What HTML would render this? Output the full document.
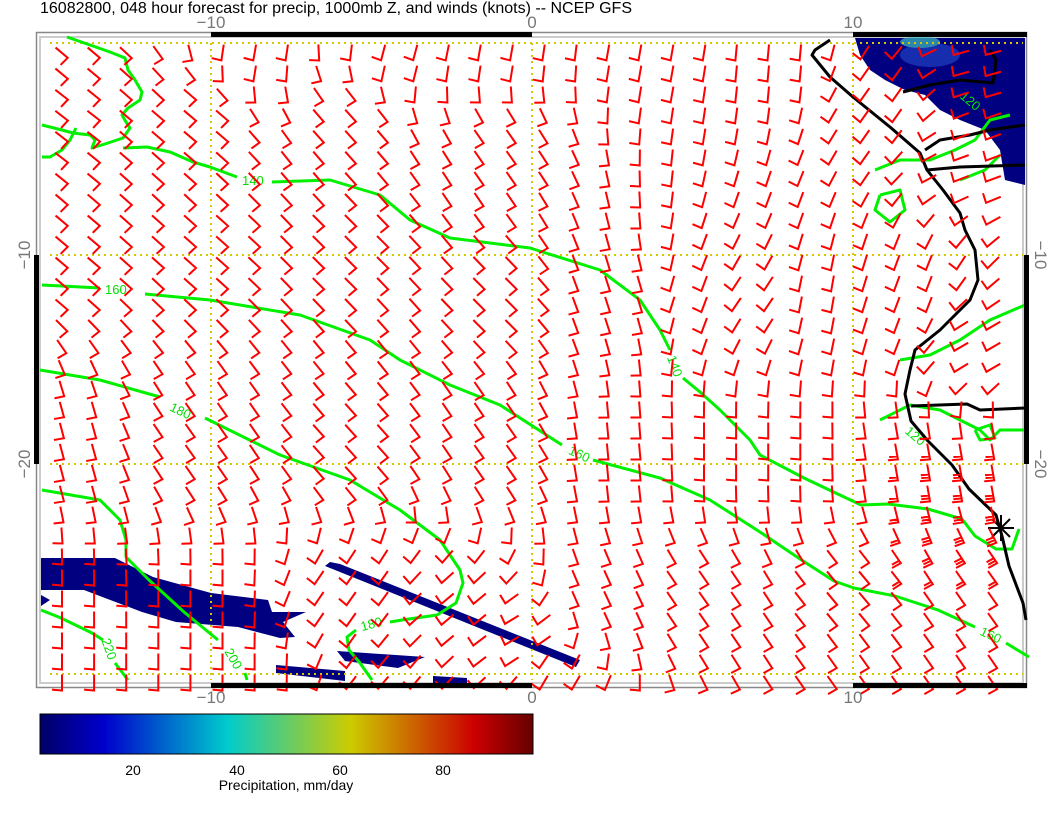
<!DOCTYPE html>
<html><head><meta charset="utf-8"><style>
html,body{margin:0;padding:0;background:#fff;}
body{width:1056px;height:816px;overflow:hidden;position:relative;font-family:"Liberation Sans",sans-serif;}
</style></head><body>
<svg id="s" width="1056" height="816" viewBox="0 0 1056 816" xmlns="http://www.w3.org/2000/svg" style="position:absolute;left:0;top:0">
<defs>
<linearGradient id="cb" x1="0" x2="1" y1="0" y2="0">
<stop offset="0" stop-color="#000066"/>
<stop offset="0.13" stop-color="#0000cc"/>
<stop offset="0.38" stop-color="#00cccc"/>
<stop offset="0.63" stop-color="#cccc00"/>
<stop offset="0.88" stop-color="#cc0000"/>
<stop offset="1" stop-color="#660000"/>
</linearGradient>
</defs>
<text x="40" y="13" font-size="16" fill="#000">16082800, 048 hour forecast for precip, 1000mb Z, and winds (knots) -- NCEP GFS</text>
<rect x="36.5" y="32.5" width="990" height="655" fill="none" stroke="#888" stroke-width="1.5"/>
<rect x="40" y="37" width="983" height="646" fill="none" stroke="#ccc" stroke-width="2"/>
<g fill="#000080">
<path d="M855,38 L1025,38 L1025,185 L1005,180 L1000,150 L985,130 L960,120 L940,110 L925,95 L905,90 L885,80 L870,70 L860,55 Z"/>
<path d="M41,558 L115,558 L153,577 L211,593 L268,600 L272,612 L306,612 L283,622 L295,637 L280,638 L238,627 L176,622 L142,612 L84,590 L41,590 Z"/>
<path d="M41,595 L50,600 L41,606 Z"/>
<path d="M330,562 L340,564 L580,660 L576,667 L325,566 Z"/>
<path d="M337,651 L425,657 L398,668 L345,661 Z"/>
<path d="M276,665 L345,671 L345,681 L276,673 Z"/>
<path d="M433,676 L467,678 L467,683 L433,683 Z"/>
</g>
<g fill="#2040c0" opacity="0.7">
<ellipse cx="930" cy="55" rx="30" ry="12"/>
<ellipse cx="920" cy="42" rx="20" ry="6" fill="#40c0c0"/>
</g>
<g stroke="#d4c800" stroke-width="2" stroke-dasharray="2,4">
<line x1="50" y1="43" x2="1023" y2="43"/>
<line x1="50" y1="255" x2="1023" y2="255"/>
<line x1="50" y1="464" x2="1023" y2="464"/>
<line x1="50" y1="674" x2="1023" y2="674"/>
<line x1="211" y1="43" x2="211" y2="680"/>
<line x1="532" y1="43" x2="532" y2="680"/>
<line x1="853" y1="43" x2="853" y2="680"/>
</g>
<g fill="none" stroke="#00f000" stroke-width="3" stroke-linejoin="round">
<polyline points="67,37 90,45 110,52 125,58 128,70 135,80 142,92 140,100 128,108 122,115 126,122 130,128 123,138 108,143 92,148 95,140 90,135 73,133 62,130 42,125"/>
<polyline points="42,157 50,157 62,150 70,140 76,128"/>
<polyline points="123,148 147,147 170,152 193,162 210,167 237,177"/>
<polyline points="272,182 330,180 380,195 410,220 450,238 530,248 600,270 640,300 660,330 670,350"/>
<polyline points="683,378 700,392 720,410 750,440 760,455 804,478 861,505 888,504 928,509 962,519 975,536 996,549 1012,549 1019,529"/>
<polyline points="42,285 100,288"/>
<polyline points="145,294 210,300 300,315 370,340 400,360 450,385 500,405 562,445"/>
<polyline points="593,460 660,478 710,500 760,532 800,559 834,581 854,588 895,596 938,610 975,627"/>
<polyline points="1006,643 1029,657"/>
<polyline points="40,370 100,380 160,397"/>
<polyline points="205,418 280,455 350,480 400,510 440,540 460,570 463,583 456,603 437,615 402,620 390,622"/>
<polyline points="356,630 347,637 349,650 360,663 372,680"/>
<polyline points="42,490 100,500 120,520 126,540 126,557 149,580 184,612 218,640"/>
<polyline points="245,673 247,680"/>
<polyline points="41,610 61,618 92,633 103,640"/>
<polyline points="115,663 128,680"/>
<polyline points="875,170 900,160 930,160 955,150 975,140 990,120 1010,115"/>
<polyline points="880,195 900,190 905,210 890,222 875,210 880,195"/>
<polyline points="960,180 985,170 1000,155"/>
<polyline points="880,420 910,405 940,410 960,420 980,430 990,440 1000,430 1025,430"/>
<polyline points="900,360 930,355 960,340 990,320 1025,305"/>
<polyline points="975,430 990,425 995,438 980,440 975,430"/>
</g>
<g fill="#00e000" font-size="13" font-family="Liberation Sans,sans-serif">
<text x="242" y="185">140</text>
<text x="105" y="294">160</text>
<text x="170" y="415" transform="rotate(25 180 410)">180</text>
<text x="225" y="660" transform="rotate(60 232 655)">200</text>
<text x="100" y="652" transform="rotate(70 109 647)">220</text>
<text x="665" y="370" transform="rotate(70 675 365)">140</text>
<text x="568" y="458" transform="rotate(25 578 455)">160</text>
<text x="360" y="628" transform="rotate(-15 373 622)">180</text>
<text x="980" y="640" transform="rotate(25 992 635)">160</text>
<text x="905" y="440" transform="rotate(40 915 435)">120</text>
<text x="960" y="105" transform="rotate(40 970 100)">120</text>
</g>
<g fill="none" stroke="#000" stroke-width="3" stroke-linejoin="round">
<polyline points="830,40 815,50 812,55 830,77 853,97 890,127 920,153 927,170 943,190 960,213 965,230 975,250 978,280 970,300 940,330 915,350 910,370 905,394 911,421 928,441 952,465 969,489 996,515 1002,536 1009,566 1023,603 1026,620"/>
<polyline points="927,170 960,167 1025,165"/>
<polyline points="911,406 967,404 980,410 1026,408"/>
<polyline points="903,92 930,85 960,80 993,83 996,60 990,50"/>
<polyline points="925,150 940,140 970,135 990,130 1025,125"/>
</g>
<g stroke="#000" stroke-width="2"><line x1="988" y1="528" x2="1014" y2="528"/><line x1="1001" y1="515" x2="1001" y2="541"/><line x1="992" y1="519" x2="1010" y2="537"/><line x1="992" y1="537" x2="1010" y2="519"/></g>
<g id="barbs" stroke="#ff0000" stroke-width="2" fill="none" stroke-linecap="square" stroke-linejoin="miter"></g>
<g fill="#000">
<rect x="211" y="32" width="321" height="5"/>
<rect x="853" y="32" width="174" height="5"/>
<rect x="211" y="683" width="321" height="5"/>
<rect x="853" y="683" width="174" height="5"/>
<rect x="34" y="255" width="5" height="209"/>
<rect x="1024" y="255" width="5" height="209"/>
</g>
<g fill="#777" font-size="17" text-anchor="middle">
<text x="211" y="28">−10</text><text x="532" y="28">0</text><text x="853" y="28">10</text>
<text x="211" y="703">−10</text><text x="532" y="703">0</text><text x="853" y="703">10</text>
<text transform="translate(30,255) rotate(-90)">−10</text>
<text transform="translate(30,464) rotate(-90)">−20</text>
<text transform="translate(1035,255) rotate(90)">−10</text>
<text transform="translate(1035,464) rotate(90)">−20</text>
</g>
<rect x="40" y="714" width="493" height="40" fill="url(#cb)" stroke="#000" stroke-width="1"/>
<g font-size="14" text-anchor="middle" fill="#000">
<text x="133" y="775">20</text><text x="237" y="775">40</text><text x="340" y="775">60</text><text x="443" y="775">80</text>
<text x="286" y="790">Precipitation, mm/day</text>
</g>
</svg>
<script>
var C=[[60,50,40],[250,50,100],[400,50,105],[500,50,100],[650,50,100],[780,60,95],[880,100,125],[980,60,165],[980,150,160],
[60,120,38],[200,120,40],[350,130,48],[500,150,55],
[60,250,40],[200,250,42],[350,250,45],[500,300,45],[620,300,72],[700,300,110],[750,300,125],[820,300,100],[900,300,110],[980,350,150],
[60,450,75],[200,450,55],[350,450,48],[500,450,55],[620,450,85],[720,450,90],[800,450,90],[900,450,80],[990,450,80],
[60,600,90],[200,600,90],[350,600,125],[450,620,140],[520,640,150],[600,600,65],[700,600,55],[850,600,50],[990,600,55],
[60,680,90],[250,680,90],[400,680,130],[550,680,120],[850,680,55]];
function ang(x,y){var sx=0,sy=0;for(var i=0;i<C.length;i++){var dx=x-C[i][0],dy=y-C[i][1];var w=1/(dx*dx+dy*dy+100);w=w*w;var a=C[i][2]*Math.PI/180;sx+=w*Math.cos(a);sy+=w*Math.sin(a);}return Math.atan2(sy,sx);}
var g=document.getElementById('barbs'),d='';
for(var i=0;i<31;i++)for(var j=0;j<31;j++){
var x=62+32.1*i,y=53+21*j;if(x>1022)continue;
var a=ang(x,y),cx=Math.cos(a),cy=Math.sin(a),L=15,B=9;
var tx=x-cx*L/2,ty=y-cy*L/2,hx=x+cx*L/2,hy=y+cy*L/2;
var ba=a+95*Math.PI/180,bx=Math.cos(ba),by=Math.sin(ba);
d+='M'+tx.toFixed(1)+','+ty.toFixed(1)+'L'+hx.toFixed(1)+','+hy.toFixed(1)+'l'+(bx*B).toFixed(1)+','+(by*B).toFixed(1);
var n=1;if(x>900&&x<1000&&y>470&&y<560)n=3;else if(x>870&&x<1010&&y>440&&y<580)n=2;
for(var k=1;k<n;k++){var px=hx-cx*3*k,py=hy-cy*3*k;d+='M'+px.toFixed(1)+','+py.toFixed(1)+'l'+(bx*B*0.8).toFixed(1)+','+(by*B*0.8).toFixed(1);}
}
var p=document.createElementNS('http://www.w3.org/2000/svg','path');p.setAttribute('d',d);g.appendChild(p);
</script>
</body></html>
